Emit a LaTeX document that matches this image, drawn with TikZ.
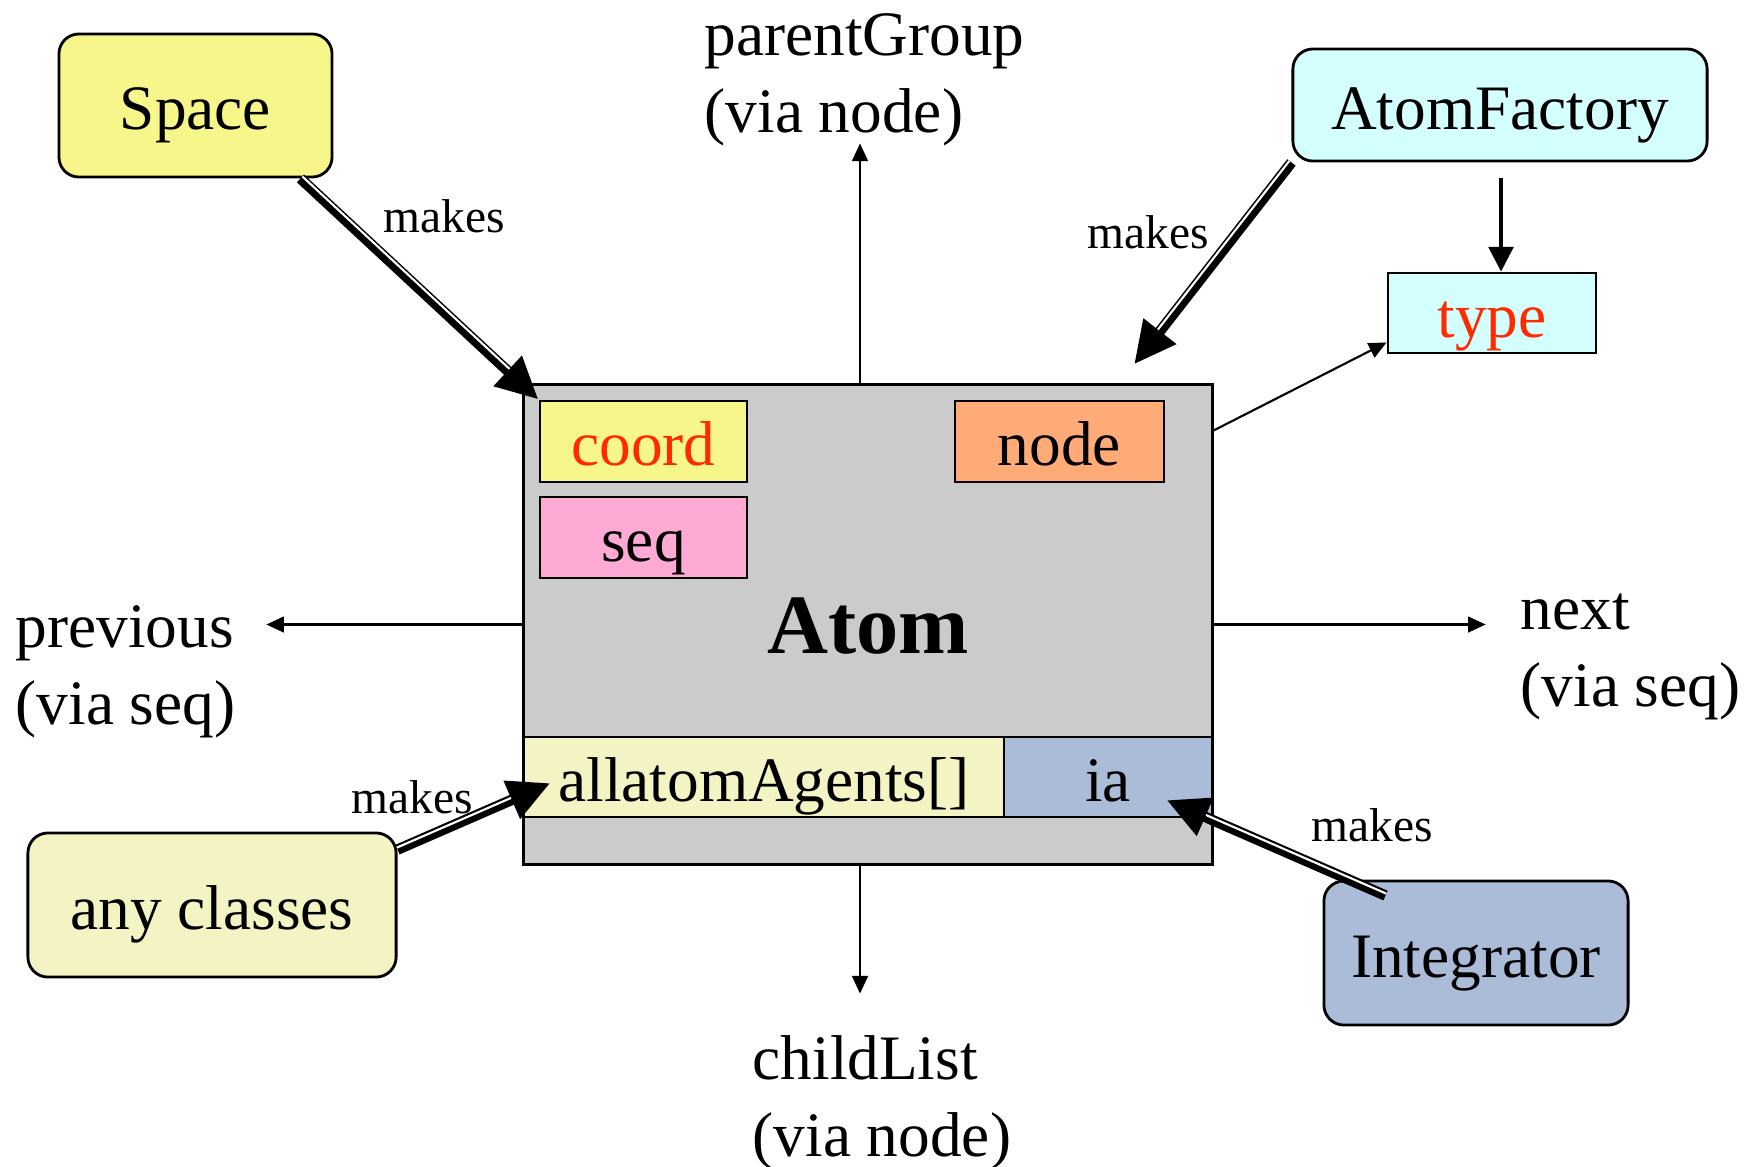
\documentclass[tikz,border=0pt]{standalone}
\usepackage{fontspec}
\setmainfont{Liberation Serif}
\usetikzlibrary{calc,arrows.meta}

\definecolor{spaceyellow}{RGB}{247,246,138}
\definecolor{factorycyan}{RGB}{212,255,255}
\definecolor{fieldred}{RGB}{255,42,0}
\definecolor{atomgray}{RGB}{203,203,203}
\definecolor{seqpink}{RGB}{255,170,213}
\definecolor{nodeorange}{RGB}{255,171,120}
\definecolor{paleyellow}{RGB}{243,243,195}
\definecolor{integblue}{RGB}{171,188,217}

\tikzset{
    box/.style={draw,line width=0.8pt,inner sep=0pt,text height=13.7pt,text depth=0pt,
        font=\fontsize{18}{22}\selectfont},
    rbox/.style={box,rounded corners=2mm},
    lab/.style={inner sep=0pt,align=left,anchor=west,font=\fontsize{18}{22}\selectfont},
    small/.style={inner sep=0pt,font=\fontsize{13.5}{16}\selectfont},
    arr/.style={line width=0.6pt,-{Triangle[length=5pt,width=4.5pt]}},
    makes/.style={line width=3pt,-{Triangle[length=12pt,width=11pt]},
        postaction={draw=white,line width=0.6pt,-,shorten >=12pt,transform canvas={shift={#1}}}}
}

\begin{document}
\begin{tikzpicture}[x=0.01cm,y=-0.01cm]
        \useasboundingbox (0,0) rectangle (1752,1166);
        % the atom and its fields
        \node[box,fill=atomgray,minimum width=6.88cm,minimum height=4.79cm,text height=16.3pt,
              font=\fontsize{24}{28}\selectfont\bfseries] (atom) at (868,624.5) {Atom};
        \node[box,fill=spaceyellow,text=fieldred,minimum width=2.07cm,minimum height=0.81cm] (coord) at (643.5,441.5) {coord};
        \node[box,fill=seqpink,minimum width=2.07cm,minimum height=0.81cm] (seq) at (643.5,537.5) {seq};
        \node[box,fill=nodeorange,minimum width=2.09cm,minimum height=0.81cm] (node) at (1059.5,441.5) {node};
        \node[box,fill=paleyellow,minimum width=4.8cm,minimum height=0.8cm] (agents) at (764,777) {allatomAgents[]};
        \node[box,fill=integblue,minimum width=2.08cm,minimum height=0.8cm] (ia) at (1108,777) {ia};
        % makers
        \node[rbox,fill=spaceyellow,minimum width=2.73cm,minimum height=1.43cm] (space) at (195.5,105.5) {Space};
        \node[rbox,fill=factorycyan,minimum width=4.14cm,minimum height=1.12cm] (factory) at (1500,105) {AtomFactory};
        \node[box,fill=factorycyan,text=fieldred,minimum width=2.08cm,minimum height=0.8cm] (type) at (1492,313) {type};
        \node[rbox,fill=paleyellow,minimum width=3.68cm,minimum height=1.44cm] (anyclasses) at (212,905) {any classes};
        \node[rbox,fill=integblue,minimum width=3.04cm,minimum height=1.44cm] (integrator) at (1476,953) {Integrator};
        % links
        \node[lab] (parent) at (704,80) {parentGroup\\(via node)};
        \node[lab] (child) at (752,1103) {childList\\(via node)};
        \node[lab] (previous) at (15,672) {previous\\(via seq)};
        \node[lab] (next) at (1520,657) {next\\(via seq)};
        \draw[arr] ($(atom.north)+(-8,0)$) -- ++(0,-240);
        \draw[arr] ($(atom.south)+(-8,0)$) -- ++(0,128);
        \draw[arr] (atom.west) -- ++(-256,0);
        \draw[arr] (atom.east) -- ++(272,0);
        \draw[arr] ($(atom.north east)+(0,47)$) -- ($(type.south west)+(0,-12)$);
        \draw[line width=1pt,-{Triangle[length=7pt,width=7pt]}] ($(type.north |- factory.south)+(9,16)$) -- ($(type.north)+(9,0)$);
        % who makes what
        \coordinate (factorytip) at ($(atom.north)+(266,-19)$);
        \draw[makes={(0.55pt,0.55pt)}] ($(space.south east)+(-33,0)$) -- (coord.north west);
        \draw[makes={(-0.6pt,0.45pt)}] (factory.south west) -- (factorytip);
        \draw[makes={(-0.2pt,0.55pt)}] ($(anyclasses.north east)+(0,18)$) -- ($(agents.west)+(28,6)$);
        \draw[makes={(0.22pt,0.55pt)}] ($(integrator.north west)+(63,16)$) -- ($(ia.east)+(-47,23)$);
        \node[small] (makes1) at (444,216) {makes};
        \node[small] (makes2) at (1148,232) {makes};
        \node[small] (makes3) at (412,797) {makes};
        \node[small] (makes4) at (1372,825) {makes};
    \end{tikzpicture}
\end{document}
